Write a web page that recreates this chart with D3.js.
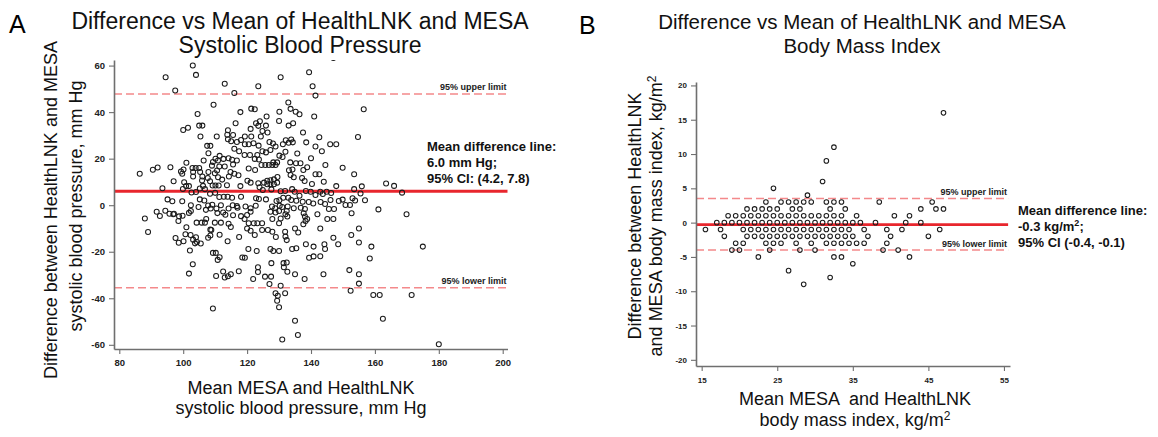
<!DOCTYPE html>
<html>
<head>
<meta charset="utf-8">
<script src="https://cdn.jsdelivr.net/npm/d3@7"></script>
<style>
  body { margin: 0; background: #fff; }
  text { font-family: Arial, "Liberation Sans", sans-serif; }
</style>
</head>
<body>
<div id="canvas"></div>
<script>
// ---- data ----
// panel A: [mean of the two SBP readings, difference], mm Hg
const sbpPoints = [
  [103,60],[104,56],[94.5,55],[113,52.2],[97.5,49.3],[116,48.2],[109.5,43.2],[117.9,40],[104.5,39.2],[116.4,35.2],
  [105,34.2],[106,34.2],[101.5,33.3],[100,32.3],[114,32.2],[113.8,30.3],[105.4,29.5],[110.5,29.5],[115.6,30.2],[114,28.3],
  [115,27.5],[116.8,27.2],[118.1,28],[107.5,25.5],[108.5,25.5],[107.9,22.3],[116,24.3],[117.5,23.2],[111.4,21.2],[110.1,20],
  [112.6,19.9],[114.2,20.2],[115.3,19.5],[109.3,18.6],[110.9,19.2],[106.4,19.2],[116.8,19.2],[101,18.2],[109,17],[111.3,16.6],
  [113,16.6],[115.6,17.5],[100.1,15.3],[102.9,16],[103.9,16],[105,16],[96,16.3],[92,16.2],[90.5,15.2],[86.4,13.5],
  [99.3,14.5],[99.7,13.5],[103.1,14.3],[105.3,14.3],[110.6,14.9],[109.9,13.7],[107.9,14.3],[114.8,14.3],[116,13.5],[103.1,12.3],
  [106,12.3],[107.7,11.7],[110.9,12],[114.3,12.3],[117.3,12.9],[97,10.3],[100.3,9.9],[105.9,10.6],[108.4,10.3],[112.2,11],
  [100.9,8.2],[101.8,8.2],[106.2,8.3],[109.2,8.5],[110.1,8.5],[111.1,8.5],[113.7,8.6],[117.9,8.2],[93.5,7.3],[99.9,7],
  [105.2,7.2],[106.8,6.9],[102.6,5.5],[104,5.7],[108.4,4.9],[110,5.3],[111.3,3.5],[112.7,3.6],[113.9,3.6],[115.3,3.2],
  [118.1,3.6],[95.1,2.5],[96.6,1.7],[99.7,1.7],[105.2,2.5],[106.6,2],[102.4,0],[107.8,-0.1],[109.1,0.2],[111.8,0],
  [115.5,0],[116.8,-0.4],[104.8,-0.8],[110.4,-1.4],[114.2,-1.4],[88,-5.7],[94.4,-2.4],[95.7,-3.7],[97.1,-3.7],[98.7,-4.8],
  [99.8,-4.5],[102.4,-2.5],[101.8,-3.3],[107.1,-2],[108.6,-1.4],[110.7,-3.4],[112.5,-3.1],[113.2,-4.1],[115.6,-4.3],[117,-1.1],
  [118.1,-4.7],[107.2,-5.9],[105.8,-7.5],[104.2,-7.5],[106.8,-7.5],[109.9,-7.5],[111.8,-7.5],[114.2,-8],[114.9,-9.4],[89,-11.5],
  [101,-9.5],[108.5,-10.5],[100.7,-12.5],[102.3,-12.8],[97.6,-14.1],[98.6,-16.1],[100.1,-15.5],[103.1,-14.8],[104,-13.8],[104.3,-15.8],
  [105.5,-16.5],[107.8,-14],[108.5,-13],[108.8,-10.7],[111.4,-12.7],[113.9,-15.5],[117.5,-13.7],[103.7,-16.4],[102.1,-19.5],[109.3,-20.5],
  [110.2,-20.5],[111.4,-22.4],[110.8,-23.5],[103,-25.4],[101.8,-29.4],[110.3,-30.4],[112.5,-28.5],[113,-31.1],[114,-30.5],[114.9,-29.7],
  [117.4,-28.4],[109.3,-44.4],[118.5,-22.5],[91.7,-2.8],[92.7,-4.6],[98.5,-6.8],[96.9,-3.9],
  [139.4,57.1],[130.5,55],[140.5,51.1],[123.5,51.1],[141.4,47.1],[156.5,41.2],[132.9,44.1],[121.3,41.5],[122.4,41.2],[133.6,41.4],
  [135.2,40.2],[136.4,39.1],[130.1,40.2],[126.1,38.1],[141,38.1],[130,36.2],[122.8,35.2],[124,36.1],[134.4,35.2],[133,34.2],
  [123.5,34.1],[125.9,34.2],[121.1,32.8],[124.8,31.9],[126.4,31.2],[137.5,31.2],[154.7,29.3],[119.3,29.5],[121.3,29.5],[124.3,29.5],
  [142.6,29.2],[133.8,28.2],[132.1,27.9],[133,26.8],[134.3,27],[127,27.2],[128.1,26.5],[128.9,25.2],[138.5,27],[119.3,26.2],
  [120.5,26.2],[122,26.6],[123.6,25.6],[131.2,26.2],[141.4,25.2],[146,26.2],[147.9,26.2],[143.4,23.2],[124.8,23.2],[125.9,22.7],
  [127.3,23.7],[132,23],[135.7,22.2],[123.2,21.6],[119.2,21.6],[120.9,21.6],[130.1,21.3],[131.1,20.7],[140,20.2],[123.7,19.6],
  [122.4,19.9],[144.5,17.3],[133.5,18.4],[135.3,18],[136.7,18],[128.9,17.3],[128.2,18.4],[129.4,18.4],[124.5,17.3],[125.7,17.3],
  [126.8,17.3],[127.9,17.3],[149.9,16.1],[120.5,15.8],[122.5,15.1],[133.1,15],[134.2,15.3],[137.6,15.1],[138.8,16.3],[141.4,13.3],
  [142.6,13.3],[153.5,13.3],[129.5,12.1],[128.4,11.1],[127.3,10.7],[126.3,10.5],[133.6,13],[134.6,12],[137.2,11.7],[138,10.4],
  [144,10.1],[120.1,10.5],[121.1,9.7],[123.5,9.4],[125.3,9.7],[126.3,9],[127.3,9],[128.4,9],[129.4,9.7],[140.3,9.1],
  [147.9,8.2],[155.9,8.1],[153.5,6.9],[155.5,5],[156.9,2.1],[123.9,7.7],[124.9,6.5],[127.6,6.8],[130.5,6],[131.9,6.1],
  [134.1,6.9],[134.9,5.8],[138.4,6.1],[139.9,5.8],[141.4,4.4],[142.9,5.8],[143.7,4.8],[144.9,5.8],[146.3,5.2],[146.1,2.2],
  [148.7,1.8],[149.9,2.4],[150.8,0.1],[152.2,0.1],[153,3],[153.8,2],[122.8,3],[123.7,2.7],[125.9,2.5],[129.2,1.8],
  [130.1,2.1],[131.3,3.2],[132.9,3.2],[133.8,2.2],[135.4,1.9],[136.4,4.1],[137.4,1.5],[139.3,1.4],[140.7,0.7],[143,1.4],
  [144.4,0.5],[119.5,-0.6],[121.1,-1.3],[122.7,-0.2],[127.8,-0.6],[128.8,-1.3],[130.2,-0.2],[131,-0.8],[132.7,-0.6],[134.6,-1.3],
  [136.8,-1.1],[138.1,-1.6],[145.6,-1.6],[147.2,-1.6],[152.7,-3.5],[121.1,-2.8],[120,-4.2],[119.2,-5.9],[127.3,-2.8],[130,-2.5],
  [128.9,-3.1],[132.4,-2.5],[132,-3.9],[137.7,-3.5],[138.1,-4.9],[138.8,-5.9],[138.3,-6.8],[137.6,-8.2],[142,-3.9],[145.1,-5.9],
  [147,-5.9],[120.5,-7.8],[122.1,-7.8],[123.2,-7.8],[124.7,-7.8],[127.9,-5.9],[130.5,-5.7],[132.6,-4.9],[130,-7.8],[120,-10],
  [121.1,-11],[124.7,-10.7],[126.5,-10.7],[127.9,-11.4],[122.4,-12.8],[129,-13.7],[131.9,-11.4],[132,-13.5],[132.4,-15],[135,-10],
  [136,-11.7],[142.9,-10],[147,-14],[148.5,-16.8],[152.6,-12.8],[155,-10],[155,-16],[138.4,-16.8],[140.8,-17.8],[144.2,-16.8],
  [144.4,-18.8],[120.4,-18.8],[123,-19.7],[127.3,-18.8],[128.2,-19.7],[130,-19.7],[134.1,-18.8],[135.4,-18.5],[139.4,-22.6],[140.8,-22],
  [142.9,-21.9],[119.3,-22.6],[127.6,-24.9],[131.4,-24.9],[132.4,-24.6],[131.5,-26.7],[123.4,-26.7],[123.4,-28.7],[121.9,-31.7],[125.6,-30.7],
  [127.5,-30.7],[132.6,-28.6],[135,-29.7],[138,-31.7],[143.9,-29.7],[152,-27.9],[155,-29.7],[155,-33.7],[127,-33.9],[130.5,-34.6],
  [128.9,-37.8],[129.6,-38.9],[129.4,-41.1],[130,-43.9],[131.9,-37.8],[152.4,-36.8],[135,-49.7],[135.9,-55.8],[131,-57.7],
  [163.5,9.3],[166,8.3],[168.5,5.4],[161.1,-1.8],[169.9,-3.9],[158.9,-17.8],[158.4,-22.9],[175,-17.8],[159.5,-38.6],[161.5,-38.6],
  [171.5,-38.6],[162.5,-48.8],[180,-59.8],[147,63.3]
];
const sbpLimits = [47.8, 6.0, -35.5];          // upper, mean, lower
const sbpXTicks = [80, 100, 120, 140, 160, 180, 200];
const sbpYTicks = [-60, -40, -20, 0, 20, 40, 60];

// panel B: [mean BMI, difference], kg/m2
const bmiPoints = [
  [47,16],[32.5,11],[31.5,9],[31,6],[24.5,5],[29,4],
  [23.5,3],[25.5,3],[26.5,3],[27.5,3],[28.5,3],[29.5,3],[31.5,3],[32.5,3],[33.5,3],[38.5,3],[45.5,3],
  [21,2],[22,2],[23,2],[24,2],[25,2],[27,2],[28,2],[32,2],[34,2],[44,2],[46,2],[47,2],
  [18.5,1],[19.5,1],[20.5,1],[21.5,1],[22.5,1],[23.5,1],[24.5,1],[25.5,1],[26.5,1],[27.5,1],
  [28.5,1],[29.5,1],[30.5,1],[31.5,1],[32.5,1],[33.5,1],[35.5,1],[40.5,1],[42.5,1],
  [17,0],[18,0],[19,0],[20,0],[21,0],[22,0],[23,0],[24,0],[25,0],[26,0],[27,0],[28,0],
  [29,0],[30,0],[31,0],[32,0],[33,0],[34,0],[35,0],[36,0],[38,0],[42,0],[44,0],
  [15.5,-1],[17.5,-1],[20.5,-1],[21.5,-1],[22.5,-1],[23.5,-1],[24.5,-1],[25.5,-1],[26.5,-1],[27.5,-1],[28.5,-1],
  [29.5,-1],[30.5,-1],[31.5,-1],[32.5,-1],[33.5,-1],[34.5,-1],[36.5,-1],[39.5,-1],[41.5,-1],[46.5,-1],
  [18,-2],[21,-2],[22,-2],[23,-2],[24,-2],[25,-2],[26,-2],[27,-2],[28,-2],[29,-2],[30,-2],
  [31,-2],[32,-2],[33,-2],[34,-2],[35,-2],[37,-2],[40,-2],[45,-2],
  [19.5,-3],[20.5,-3],[23.5,-3],[24.5,-3],[25.5,-3],[27.5,-3],[29.5,-3],[31.5,-3],[32.5,-3],[33.5,-3],
  [34.5,-3],[35.5,-3],[36.5,-3],[39.5,-3],
  [19,-4],[20,-4],[24,-4],[28,-4],[30,-4],[39,-4],[41,-4],
  [22.5,-5],[32.5,-5],[33.5,-5],[42.5,-5],
  [35,-6],[26.5,-7],[32,-8],[28.5,-9]
];
const bmiLimits = [3.5, -0.3, -4.0];
const bmiXTicks = [15, 25, 35, 45, 55];
const bmiYTicks = [-20, -15, -10, -5, 0, 5, 10, 15, 20];

const svg = d3.select('#canvas').append('svg')
  .attr('width', 1158)
  .attr('height', 437);

function drawPanel(p) {
  const g = svg.append('g');
  const x = d3.scaleLinear().domain(p.xDomain).range(p.xRange);
  const y = d3.scaleLinear().domain(p.yDomain).range(p.yRange);

  svg.append('clipPath').attr('id', p.id + '-clip')
    .append('rect')
    .attr('x', p.xRange[0]).attr('y', p.yRange[1])
    .attr('width', p.xRange[1] - p.xRange[0] + 10)
    .attr('height', p.yRange[0] - p.yRange[1]);

  const [upper, mean, lower] = p.limits;
  const x0 = p.xRange[0], x1 = x(p.lineTo);

  // limits of agreement
  g.selectAll('line.limit')
    .data([upper, lower])
    .enter().append('line')
    .attr('class', 'limit')
    .attr('x1', x0).attr('x2', x1)
    .attr('y1', d => y(d)).attr('y2', d => y(d))
    .attr('stroke', '#f4898b')
    .attr('stroke-width', 1.5)
    .attr('stroke-dasharray', '8,4');

  g.append('line')
    .attr('x1', x0).attr('x2', x1)
    .attr('y1', y(mean)).attr('y2', y(mean))
    .attr('stroke', '#e8262d')
    .attr('stroke-width', 2.8);

  g.append('g')
    .attr('clip-path', `url(#${p.id}-clip)`)
    .selectAll('circle')
    .data(p.points)
    .enter().append('circle')
    .attr('cx', d => x(d[0]))
    .attr('cy', d => y(d[1]))
    .attr('r', p.r)
    .attr('fill', 'none')
    .attr('stroke', '#1c1c1c')
    .attr('stroke-width', 1.05);

  const xAxis = g.append('g')
    .attr('transform', `translate(0, ${p.yRange[0]})`)
    .call(d3.axisBottom(x).tickValues(p.xTicks).tickSize(5).tickSizeOuter(0)
      .tickPadding(p.xPad).tickFormat(d => String(d)));

  const yAxis = g.append('g')
    .attr('transform', `translate(${p.xRange[0]}, 0)`)
    .call(d3.axisLeft(y).tickValues(p.yTicks).tickSize(5).tickSizeOuter(0)
      .tickPadding(4).tickFormat(d => String(d)));

  [xAxis, yAxis].forEach(a => {
    a.select('.domain').attr('stroke', '#6f6f6f').attr('stroke-width', 1.6);
    a.selectAll('.tick line').attr('stroke', '#6f6f6f').attr('stroke-width', 1.1);
    a.selectAll('.tick text')
      .attr('font-size', p.tickFont)
      .attr('font-weight', 'bold')
      .attr('fill', '#222');
  });

  // limit labels
  g.selectAll('text.lim')
    .data([['95% upper limit', upper], ['95% lower limit', lower]])
    .enter().append('text')
    .attr('class', 'lim')
    .attr('x', x1 - 1)
    .attr('y', d => y(d[1]) - 3.5)
    .attr('text-anchor', 'end')
    .attr('font-size', 9)
    .attr('font-weight', 'bold')
    .attr('fill', '#222')
    .text(d => d[0]);

  return g;
}

// ---------- panel A ----------
drawPanel({
  id: 'a', points: sbpPoints, limits: sbpLimits,
  xDomain: [78.34, 201.5], xRange: [114, 507.5],
  yDomain: [-61.8, 62.4], yRange: [349, 60],
  xTicks: sbpXTicks, yTicks: sbpYTicks, lineTo: 201.5,
  r: 2.5, tickFont: 9.5, xPad: 5
});

// ---------- panel B ----------
drawPanel({
  id: 'b', points: bmiPoints, limits: bmiLimits,
  xDomain: [14.25, 55.8], xRange: [696, 1010],
  yDomain: [-20.9, 20.5], yRange: [366, 82],
  xTicks: bmiXTicks, yTicks: bmiYTicks, lineTo: 55.55,
  r: 2.3, tickFont: 8, xPad: 6
});

// panel letters and titles
svg.append('text').attr('x', 9).attr('y', 33).attr('font-size', 25).text('A');
svg.append('text').attr('x', 579).attr('y', 34).attr('font-size', 25).text('B');

function title(cx, lines, ys, size) {
  lines.forEach((t, i) => {
    svg.append('text')
      .attr('x', cx).attr('y', ys[i])
      .attr('text-anchor', 'middle')
      .attr('font-size', size)
      .attr('fill', '#111')
      .text(t);
  });
}
title(300, ['Difference vs Mean of HealthLNK and MESA', 'Systolic Blood Pressure'], [29, 53], 23);
title(862, ['Difference vs Mean of HealthLNK and MESA', 'Body Mass Index'], [29, 53], 20.5);

// axis titles A
title(301, ['Mean MESA and HealthLNK', 'systolic blood pressure, mm Hg'], [394, 414], 18);
[['Difference between HealthLNK and MESA', 57, 210], ['systolic blood pressure, mm Hg', 82, 206]].forEach(([t, bx, cy]) => {
  svg.append('text')
    .attr('transform', `translate(${bx}, ${cy}) rotate(-90)`)
    .attr('text-anchor', 'middle')
    .attr('font-size', 18)
    .attr('fill', '#111')
    .text(t);
});

// axis titles B
svg.append('text').attr('x', 855).attr('y', 405).attr('text-anchor', 'middle')
  .attr('font-size', 18).attr('fill', '#111').attr('xml:space', 'preserve')
  .text('Mean MESA  and HealthLNK');
const bxt = svg.append('text').attr('x', 855).attr('y', 426).attr('text-anchor', 'middle')
  .attr('font-size', 18).attr('fill', '#111');
bxt.append('tspan').text('body mass index, kg/m');
bxt.append('tspan').attr('font-size', 12).attr('dy', -6).text('2');

svg.append('text')
  .attr('transform', 'translate(641, 216) rotate(-90)')
  .attr('text-anchor', 'middle').attr('font-size', 18).attr('fill', '#111')
  .text('Difference between HealthLNK');
const byt = svg.append('text')
  .attr('transform', 'translate(662, 216) rotate(-90)')
  .attr('text-anchor', 'middle').attr('font-size', 18).attr('fill', '#111');
byt.append('tspan').text('and MESA body mass index, kg/m');
byt.append('tspan').attr('font-size', 12).attr('dy', -6).text('2');

// mean difference annotations
function note(x0, ys, parts) {
  parts.forEach((p, i) => {
    const t = svg.append('text').attr('x', x0).attr('y', ys[i])
      .attr('font-size', 13).attr('font-weight', 'bold').attr('fill', '#111');
    p.forEach(seg => {
      const s = t.append('tspan').text(seg[0]);
      if (seg[1]) s.attr('font-size', 9).attr('dy', -5);
      if (seg[2]) s.attr('dy', 5);
    });
  });
}
note(427, [151, 167, 183], [
  [['Mean difference line:']],
  [['6.0 mm Hg;']],
  [['95% CI: (4.2, 7.8)']]
]);
note(1018, [215, 231, 247], [
  [['Mean difference line:']],
  [['-0.3 kg/m'], ['2', true], [';', false, true]],
  [['95% CI (-0.4, -0.1)']]
]);
</script>
</body>
</html>
